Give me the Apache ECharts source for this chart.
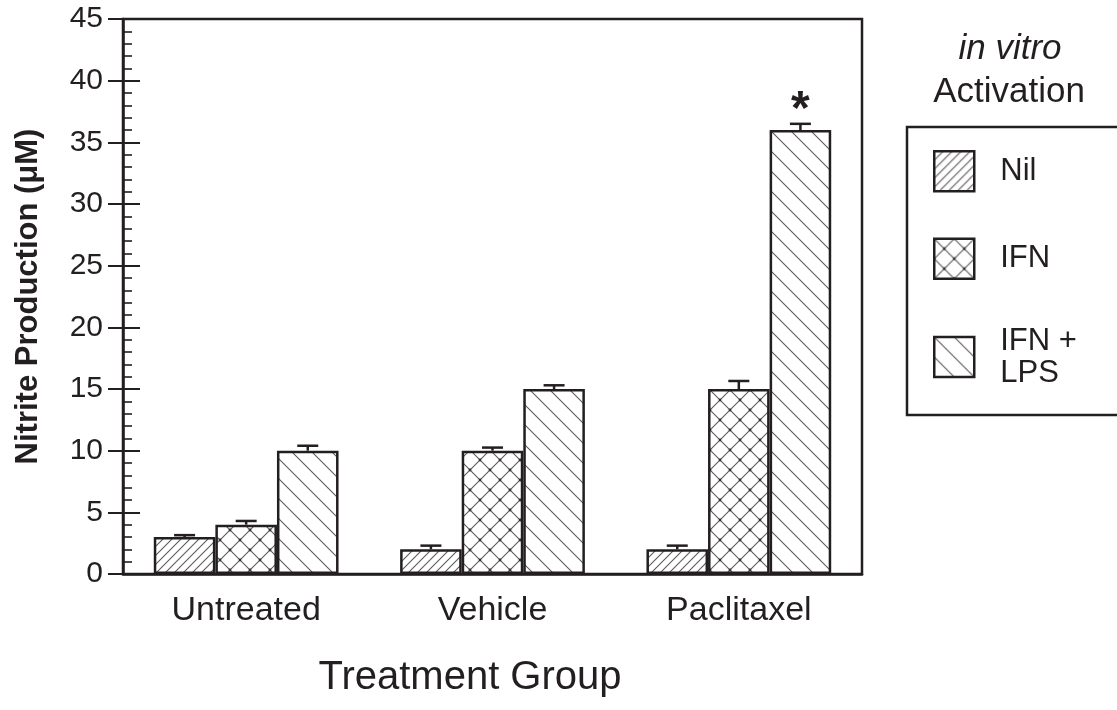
<!DOCTYPE html>
<html><head><meta charset="utf-8">
<script src="https://cdn.jsdelivr.net/npm/echarts@6/dist/echarts.min.js"></script>
<style>html,body{margin:0;padding:0;background:#fff}#c{width:1117px;height:710px}</style>
</head><body><div id="c"></div>
<script>
// ---- data ----
const categories = ['Untreated', 'Vehicle', 'Paclitaxel'];
const seriesNames = ['Nil', 'IFN', 'IFN +\nLPS'];
const nilValues = [3, 2, 2];
const ifnValues = [4, 10, 15];
const ifnLpsValues = [10, 15, 36];
const nilErrors = [0.15, 0.3, 0.3];
const ifnErrors = [0.3, 0.25, 0.65];
const ifnLpsErrors = [0.4, 0.3, 0.5];
const ifnLpsSignificance = ['', '', '*'];
const yMin = 0, yMax = 45, yInterval = 5;

const INK = '#231f20';
const FONT = '"Liberation Sans", Arial, Helvetica, sans-serif';

function makePattern(kind) {
  const s = kind === 'nil' ? 9 : 20;
  const c = document.createElement('canvas');
  c.width = s; c.height = s;
  const g = c.getContext('2d');
  g.fillStyle = '#fff'; g.fillRect(0, 0, s, s);
  g.strokeStyle = '#5a5a5a'; g.lineWidth = 1.1;
  const fwd = () => { // '/'
    g.beginPath(); g.moveTo(-2, s + 2); g.lineTo(s + 2, -2); g.stroke();
    g.beginPath(); g.moveTo(-2, 2); g.lineTo(2, -2); g.stroke();
    g.beginPath(); g.moveTo(s - 2, s + 2); g.lineTo(s + 2, s - 2); g.stroke();
  };
  const back = () => { // '\'
    g.beginPath(); g.moveTo(-2, -2); g.lineTo(s + 2, s + 2); g.stroke();
    g.beginPath(); g.moveTo(s - 2, -2); g.lineTo(s + 2, 2); g.stroke();
    g.beginPath(); g.moveTo(-2, s - 2); g.lineTo(2, s + 2); g.stroke();
  };
  if (kind === 'nil') fwd();
  if (kind === 'lps') back();
  if (kind === 'ifn') {
    fwd(); back();
    g.fillStyle = '#333';
    [[s / 2, s / 2], [0, 0], [s, 0], [0, s], [s, s]].forEach(([x, y]) => {
      g.beginPath(); g.arc(x, y, 1.4, 0, Math.PI * 2); g.fill();
    });
  }
  return { image: c, repeat: 'repeat' };
}
const patterns = [makePattern('nil'), makePattern('ifn'), makePattern('lps')];

const valueSets = [nilValues, ifnValues, ifnLpsValues];
const errorSets = [nilErrors, ifnErrors, ifnLpsErrors];
const marks = [categories.map(() => ''), categories.map(() => ''), ifnLpsSignificance];

const errData = [];
valueSets.forEach((vals, si) => {
  vals.forEach((v, ci) => errData.push([ci, si, v, v + errorSets[si][ci]]));
});
const errMarks = [];
valueSets.forEach((vals, si) => vals.forEach((v, ci) => errMarks.push(marks[si][ci])));

const chart = echarts.init(document.getElementById('c'), null, { renderer: 'canvas' });

const barSeries = seriesNames.map((name, si) => ({
  name: name,
  type: 'bar',
  data: valueSets[si],
  barGap: '0%',
  barCategoryGap: '25%',
  itemStyle: { color: patterns[si], borderColor: INK, borderWidth: 2.5 },
  emphasis: { disabled: true },
  z: 2
}));

const option = {
  animation: false,
  backgroundColor: '#fff',
  textStyle: { fontFamily: FONT, color: INK },
  grid: { left: 123, right: 255, top: 19, bottom: 136, show: true, borderColor: INK, borderWidth: 2.5, backgroundColor: 'transparent' },
  legend: {
    orient: 'vertical', left: 933, top: 150, padding: 0,
    itemWidth: 40, itemHeight: 40, itemGap: 45,
    icon: 'rect', selectedMode: false,
    data: seriesNames,
    itemStyle: { borderColor: INK, borderWidth: 2.5 },
    textStyle: { fontFamily: FONT, fontSize: 31, lineHeight: 32, color: INK, padding: [0, 0, 0, 21] }
  },
  xAxis: {
    type: 'category', data: categories,
    axisLine: { lineStyle: { color: INK, width: 2.5 } },
    axisTick: { show: false },
    axisLabel: { fontFamily: FONT, fontSize: 34, color: INK, margin: 20 },
    splitLine: { show: false }
  },
  yAxis: [{
    type: 'value', min: yMin, max: yMax, interval: yInterval,
    axisLine: { show: true, lineStyle: { color: INK, width: 2.5 } },
    axisTick: { show: true, inside: false, length: 15, lineStyle: { color: INK, width: 2 } },
    axisLabel: { fontFamily: FONT, fontSize: 30, color: INK, margin: 20 },
    splitLine: { show: false },
    name: 'Nitrite Production (μM)', nameLocation: 'middle', nameRotate: 90, nameGap: 79,
    nameTextStyle: { fontFamily: FONT, fontSize: 31, fontWeight: 'bold', color: INK }
  }, {
    type: 'value', min: yMin, max: yMax, interval: yInterval, position: 'left',
    axisLine: { show: false },
    axisTick: { show: true, inside: true, length: 17, lineStyle: { color: INK, width: 2 } },
    minorTick: { show: true, splitNumber: 5, length: 9, lineStyle: { color: INK, width: 1.6 } },
    axisLabel: { show: false },
    splitLine: { show: false }
  }],
  graphic: [
    { type: 'rect', shape: { x: 907, y: 127, width: 260, height: 288 }, style: { fill: 'none', stroke: INK, lineWidth: 2.5 }, silent: true },
    { type: 'text', style: { text: 'in vitro', x: 1010, y: 49, align: 'center', verticalAlign: 'middle', font: 'italic 35px ' + FONT, fill: INK } },
    { type: 'text', style: { text: 'Activation', x: 1009, y: 92, align: 'center', verticalAlign: 'middle', font: '35px ' + FONT, fill: INK } },
    { type: 'text', style: { text: 'Treatment Group', x: 470, y: 678, align: 'center', verticalAlign: 'middle', font: '40px ' + FONT, fill: INK } }
  ],
  series: barSeries.concat([{
    type: 'custom',
    name: 'errors',
    coordinateSystem: 'cartesian2d',
    data: errData,
    encode: { x: 0, y: [2, 3] },
    silent: true,
    z: 10,
    renderItem: function (params, api) {
      const ci = api.value(0), si = api.value(1);
      const band = api.size([1, 0])[0];
      const bw = band * 0.25;
      const cx = api.coord([ci, 0])[0] + (si - 1) * bw;
      const yb = api.coord([ci, api.value(2)])[1];
      const yt = api.coord([ci, api.value(3)])[1];
      const children = [
        { type: 'line', shape: { x1: cx, y1: yb, x2: cx, y2: yt }, style: { stroke: INK, lineWidth: 2.5 } },
        { type: 'line', shape: { x1: cx - 10.5, y1: yt, x2: cx + 10.5, y2: yt }, style: { stroke: INK, lineWidth: 2.5 } }
      ];
      const m = errMarks[params.dataIndex];
      if (m) {
        children.push({ type: 'text', style: { text: m, x: cx, y: yt - 13, align: 'center', verticalAlign: 'middle', font: 'bold 48px ' + FONT, fill: INK } });
      }
      return { type: 'group', children: children };
    }
  }])
};
chart.setOption(option);
</script>
</body></html>
